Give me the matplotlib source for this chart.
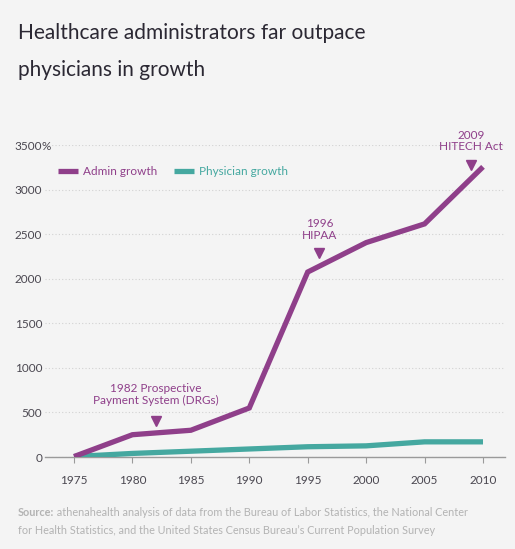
import matplotlib
matplotlib.use("Agg")
import matplotlib.pyplot as plt
from matplotlib.ticker import FixedLocator
import matplotlib.transforms as mtransforms

# ---- data ----
years = [1975, 1980, 1985, 1990, 1995, 2000, 2005, 2010]
admin_growth = [5, 250, 300, 550, 2075, 2405, 2615, 3255]
physician_growth = [5, 40, 65, 90, 115, 125, 170, 170]
y_ticks = [0, 500, 1000, 1500, 2000, 2500, 3000, 3500]
x_ticks = [1975, 1980, 1985, 1990, 1995, 2000, 2005, 2010]
series_names = ["Admin growth", "Physician growth"]
events = [
    (1982, "1982 Prospective\nPayment System (DRGs)", 405, 700),
    (1996, "1996\nHIPAA", 2290, 2555),
    (2009, "2009\nHITECH Act", 3280, 3545),
]

title_lines = ["Healthcare administrators far outpace", "physicians in growth"]
source_bold = "Source:"
source_rest = (" athenahealth analysis of data from the Bureau of Labor Statistics, the National Center",
               "for Health Statistics, and the United States Census Bureau\u2019s Current Population Survey")

# ---- style ----
BG = "#f4f4f4"
PURPLE = "#8f3f8a"
TEAL = "#45a8a0"
DARK = "#2b2833"
TICK = "#4a4750"
GRAY = "#b3b3b3"
FONT = ["Lato", "DejaVu Sans"]
plt.rcParams["font.family"] = FONT

W, H = 515, 549
fig = plt.figure(figsize=(W / 100, H / 100), dpi=100, facecolor=BG)

# axes placement (pixels)
left_px, right_px = 45, 505
zero_px, top_px = 457, 145
ax = fig.add_axes([left_px / W, (H - zero_px) / H, (right_px - left_px) / W, (zero_px - top_px) / H])
ax.set_facecolor(BG)

px_per_year = (483 - 74) / 35
ax.set_xlim(1975 - (74 - left_px) / px_per_year, 2010 + (right_px - 483) / px_per_year)
ax.set_ylim(0, 3500)

for s in ["top", "right", "left"]:
    ax.spines[s].set_visible(False)
ax.spines["bottom"].set_color("#9a9a9a")
ax.spines["bottom"].set_linewidth(1.0)

ax.yaxis.set_major_locator(FixedLocator(y_ticks))
ax.set_yticklabels([str(v) for v in y_ticks], va="center_baseline")
ax.xaxis.set_major_locator(FixedLocator(x_ticks))
ax.set_xticklabels([str(v) for v in x_ticks])
ax.tick_params(axis="y", length=0, pad=2, labelsize=8.5, labelcolor=TICK)
ax.tick_params(axis="x", length=4, width=0.8, color="#9a9a9a", pad=9, labelsize=8.5, labelcolor=TICK)
ax.grid(axis="y", linestyle=(0, (1, 2)), color="#d2d2d2", linewidth=0.8)
ax.set_axisbelow(True)

# percent sign after the top tick
trans = mtransforms.blended_transform_factory(ax.transAxes, ax.transData)
ax.text(-3.3 / (right_px - left_px), y_ticks[-1], "%", transform=trans, ha="left", va="center_baseline",
        fontsize=8.5, color=TICK)

# lines
ax.plot(years, physician_growth, color=TEAL, lw=3.8, solid_capstyle="butt", solid_joinstyle="miter",
        label=series_names[1], zorder=3)
ax.plot(years, admin_growth, color=PURPLE, lw=3.8, solid_capstyle="butt", solid_joinstyle="miter",
        label=series_names[0], zorder=4)

# legend
leg = ax.legend(handles=[ax.lines[1], ax.lines[0]], loc="upper left",
                bbox_to_anchor=((62 - left_px) / (right_px - left_px) - 0.02, (zero_px - 161) / (zero_px - top_px)),
                ncol=2, frameon=False, fontsize=8.5, handlelength=1.7, handletextpad=0.45,
                columnspacing=1.4, borderaxespad=0)
for txt, col in zip(leg.get_texts(), [PURPLE, TEAL]):
    txt.set_color(col)

# event annotations
for yr, lab, mark_v, text_v in events:
    ax.plot([yr], [mark_v], marker="v", color=PURPLE, markersize=7, clip_on=False, zorder=5)
    ax.text(yr, text_v, lab, ha="center", va="center", fontsize=8.5, color=PURPLE,
            linespacing=1.1, clip_on=False)

# title
fig.text(18 / W, 1 - 33 / H, title_lines[0], fontsize=15, color=DARK, ha="left", va="center")
fig.text(18 / W, 1 - 70 / H, title_lines[1], fontsize=15, color=DARK, ha="left", va="center")

# source
t1 = fig.text(18 / W, 1 - 513 / H, source_bold, fontsize=7.8, color=GRAY, fontweight="bold",
              ha="left", va="center")
ax.annotate(source_rest[0], xy=(1, 0.5), xycoords=t1, ha="left", va="center",
            fontsize=7.8, color=GRAY, annotation_clip=False)
fig.text(18 / W, 1 - 531 / H, source_rest[1], fontsize=7.8, color=GRAY, ha="left", va="center")

fig.savefig("out.png", dpi=100, facecolor=BG)
